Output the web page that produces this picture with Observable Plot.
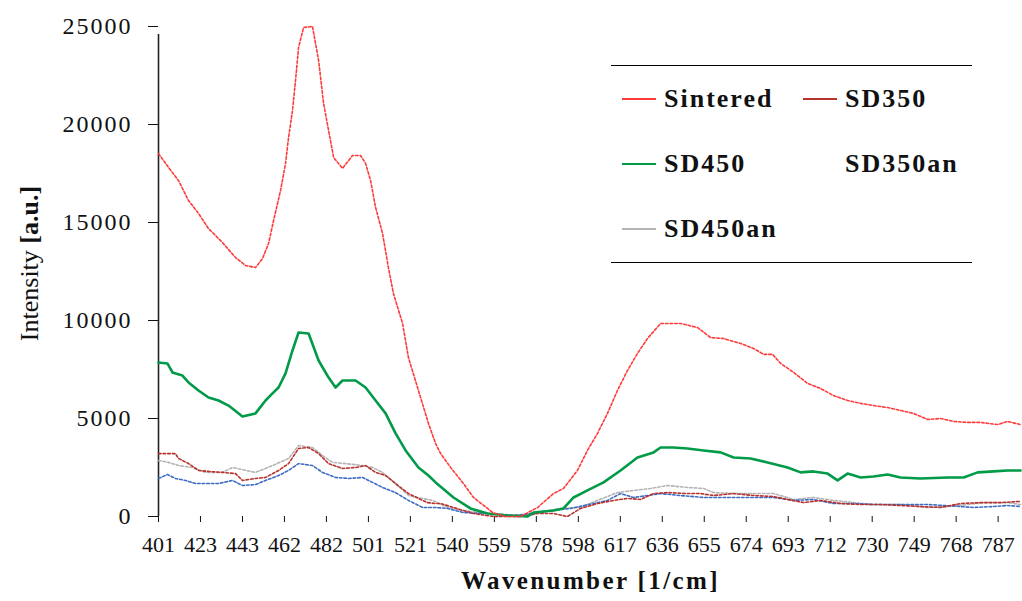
<!DOCTYPE html>
<html>
<head>
<meta charset="utf-8">
<script src="https://cdn.jsdelivr.net/npm/d3@7"></script>
<script src="https://cdn.jsdelivr.net/npm/@observablehq/plot@0.6"></script>
<style>
  html, body { margin: 0; padding: 0; background: #fff; }
  #wrap { position: relative; width: 1022px; height: 601px; font-family: "Liberation Serif", "Times New Roman", serif; }
  #legend { position: absolute; left: 611px; top: 65px; width: 361px; height: 196px;
            border-top: 1.5px solid #000; border-bottom: 1.5px solid #000; }
  .item { position: absolute; display: flex; align-items: center; font-weight: bold; font-size: 26px; letter-spacing: 2px; color: #111; }
  .sw { display: inline-block; width: 34px; height: 2px; margin-right: 8px; }
</style>
</head>
<body>
<div id="wrap"></div>
<script>
// ---- data ----
const seriesNames = ["Sintered", "SD350", "SD450", "SD350an", "SD450an"];
const seriesColors = ["#ff3a3a", "#b8322e", "#009a48", "#3d6cc4", "#b4b4b4"];

const tickLabels = ["401","423","443","462","482","501","521","540","559","578","598","617","636","655","674","693","712","730","749","768","787"];
const yTicks = [0, 5000, 10000, 15000, 20000, 25000];

const sinteredW = [401,405.6,410.2,414.8,419.4,424.0,430.4,436.4,441.0,445.6,448.8,451.6,453.9,457.1,459.4,460.8,462.6,464.0,465.4,467.7,471.8,473.2,474.6,476.9,479.2,481.5,485.6,490.2,493.9,496.2,498.5,500.8,504.0,506.7,509.0,513.2,515.9,520.5,525.1,528.4,530.7,535.3,541.2,545.8,552.3,554.6,560.5,567.4,575.3,582.6,587.2,593.6,598.2,602.8,607.4,612.0,616.6,621.2,625.8,631.8,641.0,648.8,654.8,660.8,668.6,674.6,679.2,683.3,687.0,693.0,699.4,705.4,711.3,717.8,723.8,729.7,736.2,742.1,748.1,754.6,760.5,766.5,772.9,778.9,786.7,791.3,797.3];
const sinteredI = [18520,17810,17140,16120,15460,14690,13980,13210,12810,12700,13160,13930,15100,16630,18010,19340,20710,22250,23930,24950,25000,24130,23270,21070,19690,18320,17760,18420,18420,18010,17140,15770,14440,12700,11380,9850,8110,6430,4750,3720,3210,2500,1680,970,410,200,0,0,460,1170,1430,2350,3370,4240,5260,6430,7450,8320,9080,9850,9850,9640,9130,9080,8830,8570,8270,8270,7810,7350,6790,6530,6170,5920,5770,5660,5560,5410,5260,4950,5000,4850,4800,4800,4690,4850,4690];

const sd450W = [401,405.1,407.4,412.0,414.8,419.4,424.0,428.6,433.2,439.6,445.6,450.2,453.4,456.2,459.4,462.6,465.4,470.0,474.6,479.2,482.4,485.6,491.6,496.2,500.8,505.4,510.0,514.6,520.5,525.1,528.4,536.6,544.4,552.3,561.5,570.7,573.4,582.6,587.2,591.8,598.2,605.6,613.4,621.2,628.6,631.8,637.8,644.2,651.6,659.4,665.4,673.2,681.0,690.2,696.2,702.1,708.6,713.2,717.8,723.8,729.7,736.2,742.1,751.3,763.8,771.1,777.6,784.9,791.3,797.3];
const sd450I = [7860,7810,7350,7190,6840,6430,6070,5920,5660,5100,5260,5920,6280,6580,7300,8470,9390,9340,7960,7090,6580,6940,6940,6580,5920,5260,4240,3370,2500,2090,1740,970,410,150,50,0,200,310,410,970,1330,1740,2350,3010,3270,3520,3520,3470,3370,3270,3010,2960,2760,2500,2250,2300,2190,1840,2190,1990,2040,2140,1990,1940,1990,1990,2250,2300,2350,2350];

const sd350W = [401,408.8,410.2,414.8,419.4,424.0,430.4,436.4,439.6,445.6,450.2,456.2,460.8,465.4,470.0,474.6,479.2,485.6,491.6,496.2,500.8,505.4,510.0,515.9,522.4,524.7,528.4,530.7,536.6,545.8,555.0,567.4,575.3,582.6,589.0,595.0,602.8,610.2,616.6,622.6,628.6,635.0,644.2,650.2,656.2,665.4,674.6,683.8,690.2,697.6,705.4,714.6,723.8,733.0,742.1,751.3,760.5,769.7,778.9,788.1,797.3];
const sd350I = [3210,3210,2960,2700,2350,2300,2250,2190,1840,1940,1990,2350,2700,3470,3520,3210,2700,2450,2500,2600,2250,2090,1680,1170,820,710,660,660,460,150,0,0,150,150,0,410,660,820,920,870,1170,1220,1170,1170,1070,1170,1070,1020,870,710,820,660,610,610,560,510,460,660,710,710,770];

const sd350anW = [401,405.1,408.8,413.4,418.0,428.6,435.0,439.6,445.6,450.2,456.2,460.8,465.4,471.8,476.4,482.4,488.4,494.8,497.6,504.0,510.0,515.9,522.4,528.4,533.9,541.2,552.3,564.2,572.0,582.6,590.4,601.0,607.4,613.4,619.4,625.8,631.8,641.0,651.6,656.2,665.4,673.2,683.8,693.0,702.1,711.3,720.5,729.7,742.1,754.6,769.7,775.7,784.9,791.3,797.3];
const sd350anI = [1940,2140,1940,1840,1680,1680,1840,1580,1630,1840,2090,2350,2700,2600,2250,1990,1940,1990,1840,1480,1220,820,460,460,410,200,150,50,150,310,410,660,820,1170,970,1070,1170,1070,970,970,970,970,970,820,870,660,660,610,610,610,510,460,510,560,510];

const sd450anW = [401,405.6,410.2,416.6,422.6,430.4,435.0,445.6,453.4,460.8,465.4,471.8,476.4,481.0,487.0,494.8,499.4,504.0,510.0,515.9,522.4,527.0,533.9,541.2,552.3,567.4,575.3,585.8,595.0,602.8,612.0,619.4,627.2,635.0,644.2,651.6,656.2,665.4,674.6,683.8,693.0,702.1,711.3,720.5,729.7,742.1,754.6,763.8,772.9,780.3,791.3,797.3];
const sd450anI = [2860,2760,2600,2500,2250,2250,2500,2250,2600,2960,3620,3520,3110,2760,2700,2600,2500,2250,1680,1070,920,820,460,310,150,50,200,410,460,820,1220,1330,1430,1580,1480,1430,1220,1170,1170,1170,870,970,820,710,610,610,460,510,610,710,710,610];

// ---- build table ----
const raw = [
  [sinteredW, sinteredI], [sd350W, sd350I], [sd450W, sd450I], [sd350anW, sd350anI], [sd450anW, sd450anI]
];
const rows = [];
raw.forEach(([ws, is], k) => ws.forEach((w, i) => rows.push({series: seriesNames[k], w, v: is[i]})));
const tickPos = tickLabels.map((_, i) => 401 + 19.3 * i);

const thin = {strokeWidth: 1.6, strokeDasharray: "2.6,2"};
const styleOf = {
  "Sintered": thin, "SD350": thin, "SD350an": thin, "SD450an": thin,
  "SD450": {strokeWidth: 2.6, strokeDasharray: null}
};
const drawOrder = ["SD450an", "SD350an", "SD350", "SD450", "Sintered"];

const chart = Plot.plot({
  width: 1022, height: 601,
  marginLeft: 158, marginRight: 0, marginTop: 26, marginBottom: 85,
  style: {fontFamily: "'Liberation Serif', 'Times New Roman', serif", fontSize: "22px", color: "#111", background: "#fff", overflow: "visible"},
  x: {domain: [401, 798.2]},
  y: {domain: [0, 25000]},
  marks: [
    Plot.axisY({ticks: yTicks, tickSize: 10, tickPadding: 16, fontSize: 24, label: null, tickFormat: d => String(d)}),
    Plot.axisX({ticks: tickPos, tickSize: 6, tickPadding: 14, fontSize: 22, label: null,
                tickFormat: (d, i) => tickLabels[i]}),
    Plot.ruleX([401], {y1: 0, y2: 25000, stroke: "#222", strokeWidth: 1.6, insetBottom: -8}),
    ...drawOrder.map(name => Plot.line(rows.filter(r => r.series === name), {
      x: "w", y: "v",
      stroke: seriesColors[seriesNames.indexOf(name)],
      strokeWidth: styleOf[name].strokeWidth,
      strokeDasharray: styleOf[name].strokeDasharray
    })),
    Plot.text(["Wavenumber [1/cm]"], {frameAnchor: "bottom", dy: 72, fontSize: 25, fontWeight: "bold", fill: "#111"}),
    Plot.text(["Intensity [a.u.]"], {frameAnchor: "left", textAnchor: "middle", dx: -129, dy: -8, rotate: -90, fontSize: 26, fill: "#111"})
  ]
});
chart.querySelectorAll("[aria-label='y-axis tick label'] text").forEach(t => t.setAttribute("letter-spacing", "2"));
chart.querySelectorAll("text").forEach(t => {
  if (t.textContent === "Wavenumber [1/cm]") t.setAttribute("letter-spacing", "2.4");
  if (t.textContent === "Intensity [a.u.]") {
    t.textContent = "";
    const a = document.createElementNS("http://www.w3.org/2000/svg", "tspan");
    a.textContent = "Intensity ";
    const b = document.createElementNS("http://www.w3.org/2000/svg", "tspan");
    b.textContent = "[a.u.]";
    b.setAttribute("font-weight", "bold");
    t.appendChild(a); t.appendChild(b);
  }
});
const wrap = document.getElementById("wrap");
wrap.appendChild(chart);

// ---- legend ----
const legend = document.createElement("div");
legend.id = "legend";
const legendItems = [
  {name: "Sintered", left: 11, top: 34, swatch: true},
  {name: "SD350", left: 192, top: 34, swatch: true},
  {name: "SD450", left: 11, top: 99, swatch: true},
  {name: "SD350an", left: 192, top: 99, swatch: false},
  {name: "SD450an", left: 11, top: 164, swatch: true}
];
legendItems.forEach(it => {
  const d = document.createElement("div");
  d.className = "item";
  d.style.left = it.left + "px";
  d.style.top = (it.top - 16) + "px";
  const sw = document.createElement("span");
  sw.className = "sw";
  const c = seriesColors[seriesNames.indexOf(it.name)];
  sw.style.background = it.swatch ? c : "transparent";
  const tx = document.createElement("span");
  tx.textContent = it.name;
  d.appendChild(sw); d.appendChild(tx);
  legend.appendChild(d);
});
wrap.appendChild(legend);
</script>
</body>
</html>
